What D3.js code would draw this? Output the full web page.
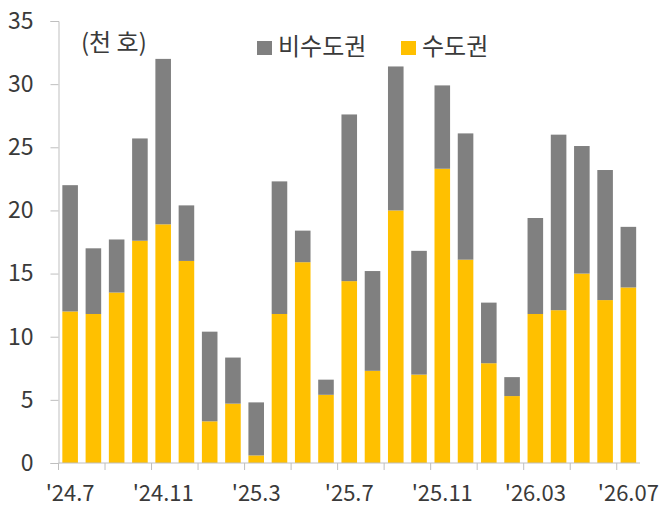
<!DOCTYPE html>
<html>
<head>
<meta charset="utf-8">
<script src="https://cdn.jsdelivr.net/npm/d3@7"></script>
<style>
  body { margin: 0; background: #fff; }
  text { font-family: "Noto Sans CJK KR", "Noto Sans", sans-serif; fill: #3a3a3a; }
</style>
</head>
<body>
<svg id="chart"></svg>
<script>
// months '24.7 ~ '26.07
const months = ["'24.7", "'24.8", "'24.9", "'24.10", "'24.11", "'24.12",
  "'25.1", "'25.2", "'25.3", "'25.4", "'25.5", "'25.6", "'25.7", "'25.8",
  "'25.9", "'25.10", "'25.11", "'25.12", "'26.01", "'26.02", "'26.03",
  "'26.04", "'26.05", "'26.06", "'26.07"];

// 수도권 (천 호)
const capital = [12.0, 11.8, 13.5, 17.6, 18.9, 16.0, 3.3, 4.7, 0.6, 11.8, 15.9, 5.4,
  14.4, 7.3, 20.0, 7.0, 23.3, 16.1, 7.9, 5.3, 11.8, 12.1, 15.0, 12.9, 13.9];

// 비수도권 (천 호)
const nonCapital = [10.0, 5.2, 4.2, 8.1, 13.1, 4.4, 7.1, 3.65, 4.2, 10.5, 2.5, 1.2,
  13.2, 7.9, 11.4, 9.8, 6.6, 10.0, 4.8, 1.5, 7.6, 13.9, 10.1, 10.3, 4.8];

const xLabels = ["'24.7", "'24.11", "'25.3", "'25.7", "'25.11", "'26.03", "'26.07"];
const yTicks = [0, 5, 10, 15, 20, 25, 30, 35];

const W = 668, H = 514;
const margin = { top: 21, right: 28, bottom: 51, left: 58.5 };

const svg = d3.select('#chart').attr('width', W).attr('height', H);

const x = d3.scaleBand()
  .domain(months)
  .range([margin.left, W - margin.right])
  .paddingInner(0.33)
  .paddingOuter(0.165);

const y = d3.scaleLinear()
  .domain([0, 35])
  .range([H - margin.bottom, margin.top]);

const rows = months.map((m, i) => ({ month: m, capital: capital[i], nonCapital: nonCapital[i] }));
const stack = d3.stack().keys(['capital', 'nonCapital'])(rows);
const colors = { capital: '#FFC000', nonCapital: '#808080' };

svg.append('g')
  .selectAll('g')
  .data(stack)
  .join('g')
  .attr('fill', d => colors[d.key])
  .selectAll('rect')
  .data(d => d)
  .join('rect')
  .attr('x', d => x(d.data.month))
  .attr('y', d => y(d[1]))
  .attr('height', d => y(d[0]) - y(d[1]))
  .attr('width', x.bandwidth());

// y axis
const yAxis = svg.append('g')
  .attr('transform', `translate(${margin.left},0)`)
  .call(d3.axisLeft(y).tickValues(yTicks).tickSize(8).tickPadding(17));
yAxis.selectAll('line, path').attr('stroke', '#bfbfbf');
yAxis.selectAll('text').attr('font-size', 23).style('fill', '#3a3a3a');

// x axis: ticks every two months, labels every four
const step = x.step();
const x0 = x.range()[0];
const tickPos = d3.range(0, months.length, 2).map(i => x0 + i * step);
const xg = svg.append('g').attr('transform', `translate(0,${y(0)})`);
xg.append('line')
  .attr('x1', x0).attr('x2', x.range()[1])
  .attr('stroke', '#bfbfbf');
xg.selectAll('line.tick')
  .data(tickPos)
  .join('line')
  .attr('class', 'tick')
  .attr('x1', d => d).attr('x2', d => d)
  .attr('y1', 0).attr('y2', 7)
  .attr('stroke', '#bfbfbf');
xg.selectAll('text')
  .data(xLabels)
  .join('text')
  .attr('x', d => x(d) + x.bandwidth() / 2)
  .attr('y', 38)
  .attr('text-anchor', 'middle')
  .attr('font-size', 22)
  .text(d => d);

// unit label
svg.append('text')
  .attr('x', 81).attr('y', 51)
  .attr('font-size', 24)
  .text('(천 호)');

// legend
const legend = [
  { key: 'nonCapital', label: '비수도권', x: 257 },
  { key: 'capital', label: '수도권', x: 401 }
];
const lg = svg.append('g');
lg.selectAll('rect')
  .data(legend)
  .join('rect')
  .attr('x', d => d.x).attr('y', 41)
  .attr('width', 15).attr('height', 14)
  .attr('fill', d => colors[d.key]);
lg.selectAll('text')
  .data(legend)
  .join('text')
  .attr('x', d => d.x + 21).attr('y', 55)
  .attr('font-size', 24)
  .text(d => d.label);
</script>
</body>
</html>
